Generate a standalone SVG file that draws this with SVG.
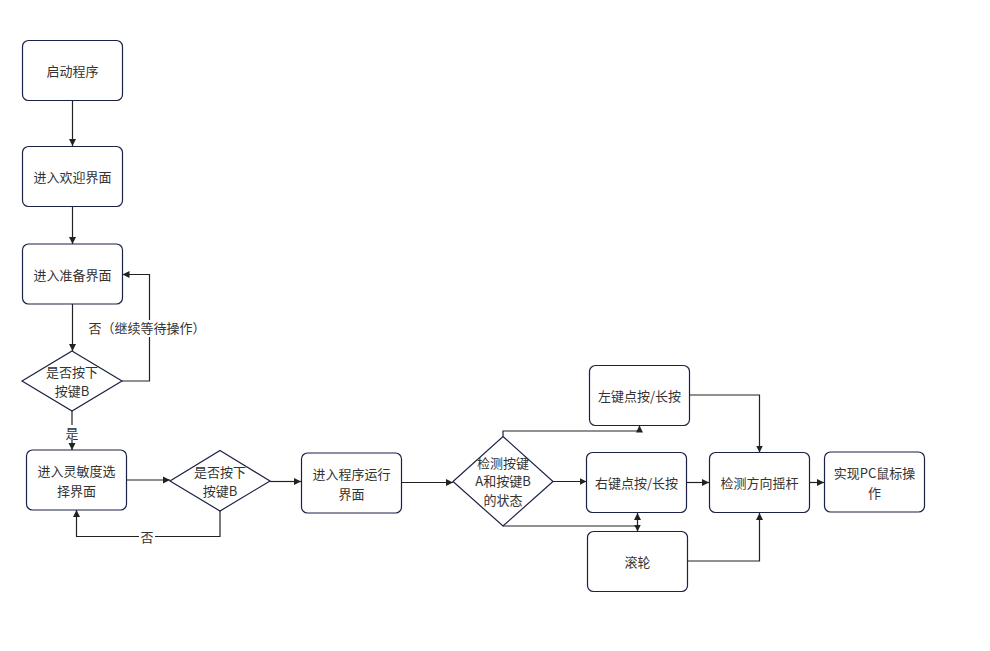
<svg xmlns="http://www.w3.org/2000/svg" width="990" height="651" viewBox="0 0 990 651">
<style>
.n{fill:#fff;stroke:#1b2145;stroke-width:1.2}
.c{fill:none;stroke:#222;stroke-width:1.2}
text{font-family:"Noto Sans CJK SC","Noto Sans",sans-serif;font-size:13px;fill:#333;text-anchor:middle}
.lb{fill:#fff;stroke:none}
</style>
<defs>
<marker id="a" markerWidth="8" markerHeight="8" refX="7" refY="4" orient="auto" markerUnits="userSpaceOnUse">
<path d="M0,0.5 L7,4 L0,7.5 Z" fill="#222"/>
</marker>
</defs>
<rect width="990" height="651" fill="#fff"/>
<g id="connectors">
<path class="c" d="M72.5,100.5 V146" marker-end="url(#a)"/>
<path class="c" d="M72.5,206.5 V244" marker-end="url(#a)"/>
<path class="c" d="M72.5,304 V351" marker-end="url(#a)"/>
<path class="c" d="M122,381 H149.5 V274.5 H122.5" marker-end="url(#a)"/>
<rect class="lb" x="86" y="320" width="122" height="17"/>
<text x="147" y="333">否（继续等待操作）</text>
<path class="c" d="M72,411 V450" marker-end="url(#a)"/>
<rect class="lb" x="64" y="425" width="16" height="15"/>
<text x="72" y="438">是</text>
<path class="c" d="M126.5,480 H170" marker-end="url(#a)"/>
<path class="c" d="M220,511 V536.5 H76.5 V510" marker-end="url(#a)"/>
<rect class="lb" x="139" y="529" width="16" height="15"/>
<text x="147" y="542">否</text>
<path class="c" d="M270,481.5 H301" marker-end="url(#a)"/>
<path class="c" d="M401,482.5 H453" marker-end="url(#a)"/>
<path class="c" d="M553,481.5 H586.5" marker-end="url(#a)"/>
<path class="c" d="M503,436.5 V431 H639.5 V425.5" marker-end="url(#a)"/>
<path class="c" d="M503,526 H637.5 V513" marker-end="url(#a)"/>
<path class="c" d="M637.5,526 V531.5" marker-end="url(#a)"/>
<path class="c" d="M689.5,395 H759.5 V452.5" marker-end="url(#a)"/>
<path class="c" d="M686.5,482.5 H709" marker-end="url(#a)"/>
<path class="c" d="M687.5,561 H759.5 V513" marker-end="url(#a)"/>
<path class="c" d="M809.5,482.5 H824" marker-end="url(#a)"/>
</g>
<g id="n1"><rect class="n" x="22.5" y="40.5" width="100" height="60" rx="6"/><text x="72.5" y="76">启动程序</text></g>
<g id="n2"><rect class="n" x="22.5" y="146.5" width="100" height="60" rx="6"/><text x="72.5" y="182">进入欢迎界面</text></g>
<g id="n3"><rect class="n" x="22.5" y="244" width="100" height="60" rx="6"/><text x="72.5" y="280">进入准备界面</text></g>
<g id="d1"><path class="n" d="M72,351 L122,381 L72,411 L22,381 Z"/><text x="72" y="377">是否按下</text><text x="72" y="396">按键B</text></g>
<g id="n4"><rect class="n" x="26.5" y="450" width="100" height="60" rx="6"/><text x="76.5" y="476">进入灵敏度选</text><text x="76.5" y="496">择界面</text></g>
<g id="d2"><path class="n" d="M220,450.5 L270,481 L220,511 L170,481 Z"/><text x="220" y="477">是否按下</text><text x="220" y="496">按键B</text></g>
<g id="n5"><rect class="n" x="301.5" y="453" width="100" height="60" rx="6"/><text x="351.5" y="479">进入程序运行</text><text x="351.5" y="499">界面</text></g>
<g id="d3"><path class="n" d="M503,436.5 L553,481.5 L503,526 L453,481.5 Z"/><text x="503" y="468">检测按键</text><text x="503" y="486">A和按键B</text><text x="503" y="505">的状态</text></g>
<g id="n6"><rect class="n" x="589.5" y="365.5" width="100" height="60" rx="6"/><text x="639.5" y="401">左键点按/长按</text></g>
<g id="n7"><rect class="n" x="586.5" y="452.5" width="100" height="60" rx="6"/><text x="636.5" y="488">右键点按/长按</text></g>
<g id="n8"><rect class="n" x="587.5" y="531.5" width="100" height="60" rx="6"/><text x="637.5" y="567">滚轮</text></g>
<g id="n9"><rect class="n" x="709.5" y="452.5" width="100" height="60" rx="6"/><text x="759.5" y="488">检测方向摇杆</text></g>
<g id="n10"><rect class="n" x="824.5" y="452" width="100" height="60" rx="6"/><text x="874.5" y="478">实现PC鼠标操</text><text x="874.5" y="498">作</text></g>
</svg>
